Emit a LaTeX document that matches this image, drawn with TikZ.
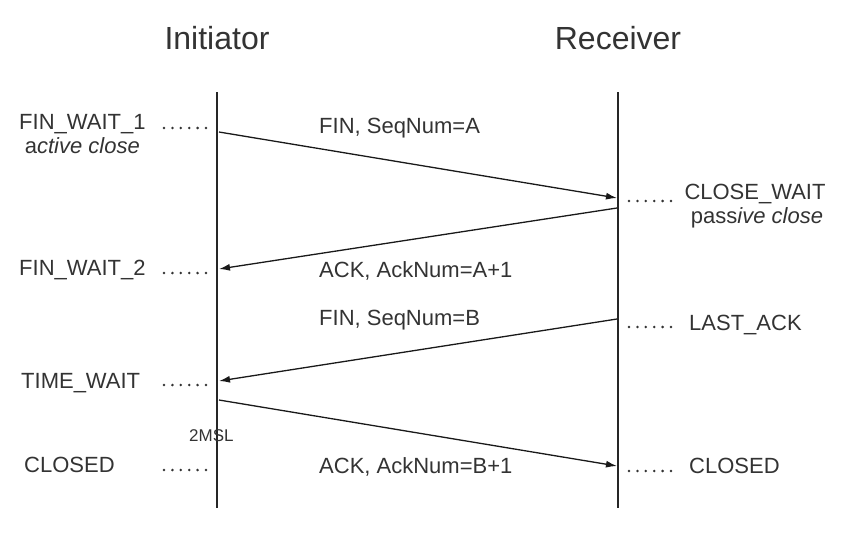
\documentclass[tikz,border=0pt]{standalone}
\usepackage{fontspec}
\setmainfont{Liberation Sans}
\usetikzlibrary{positioning,arrows.meta}
\tikzset{
  head/.style={font=\fontsize{32}{36}\selectfont, text=black!80, inner sep=0pt},
  state/.style={font=\fontsize{22}{25}\selectfont, text=black!80, inner sep=0pt},
  msg/.style={font=\fontsize{22}{25}\selectfont, text=black!80, inner sep=0pt, anchor=base west},
  life/.style={line width=1.3pt, black!85},
  sig/.style={-{Latex[length=11pt,width=7pt]}, line width=1.3pt, black!90},
  dots/.style={line width=2.8pt, line cap=round, dash pattern=on 0pt off 8.4pt, black!80}
}
\begin{document}
\begin{tikzpicture}[x=1pt,y=-1pt]
  \useasboundingbox (0,0) rectangle (842,535);
  % the two parties and their lifelines
  \node[head] (init) at (217,38) {Initiator};
  \node[head] (recv) at (618,38) {Receiver};
  \coordinate (itop) at (217,92);
  \coordinate (ibot) at (217,508);
  \coordinate (rtop) at (618,92);
  \coordinate (rbot) at (618,508);
  \draw[life] (itop) -- (ibot);
  \draw[life] (rtop) -- (rbot);

  % states of the initiator
  \node[state,anchor=base west] (fw1) at (19,129.5) {FIN\_WAIT\_1};
  \node[state,anchor=base] (act) at (fw1.base |- 0,153) {a\textit{ctive close}};
  \node[state,anchor=base west] (fw2) at (19,275.5) {FIN\_WAIT\_2};
  \node[state,anchor=base west] (tw) at (21,388) {TIME\_WAIT};
  \node[state,anchor=base west] (icl) at (24,472) {CLOSED};
  \node[font=\fontsize{17}{20}\selectfont, text=black!80, inner sep=0pt, anchor=base west] (msl) at (189,441) {2MSL};

  % states of the receiver
  \node[state,anchor=base] (cw) at (755,199) {CLOSE\_WAIT};
  \node[state,anchor=base] (pas) at (757,223) {pass\textit{ive close}};
  \node[state,anchor=base west] (la) at (689,330) {LAST\_ACK};
  \node[state,anchor=base west] (rcl) at (689,473) {CLOSED};

  % dotted leaders
  \foreach \n/\y in {1/128,2/273,3/385,4/470}{
    \coordinate (dl\n a) at (164,\y);
    \coordinate (dl\n b) at (207,\y);
    \draw[dots] (dl\n a) -- (dl\n b);
  }
  \foreach \n/\y in {1/201,2/327,3/471}{
    \coordinate (dr\n a) at (629,\y);
    \coordinate (dr\n b) at (672,\y);
    \draw[dots] (dr\n a) -- (dr\n b);
  }

  % segments
  \coordinate (i1) at (219,132);
  \coordinate (r1) at (617,198);
  \coordinate (r2) at (617,208);
  \coordinate (i2) at (219,269);
  \coordinate (r3) at (617,319);
  \coordinate (i3) at (219,381);
  \coordinate (i4) at (219,400);
  \coordinate (r4) at (617,466);
  \draw[sig] (i1) -- (r1);
  \draw[sig] (r2) -- (i2);
  \draw[sig] (r3) -- (i3);
  \draw[sig] (i4) -- (r4);
  \node[msg] (m1) at (319,133) {FIN, SeqNum=A};
  \node[msg] (m2) at (319,277) {ACK, AckNum=A+1};
  \node[msg] (m3) at (319,325) {FIN, SeqNum=B};
  \node[msg] (m4) at (319,473) {ACK, AckNum=B+1};
\end{tikzpicture}
\end{document}
